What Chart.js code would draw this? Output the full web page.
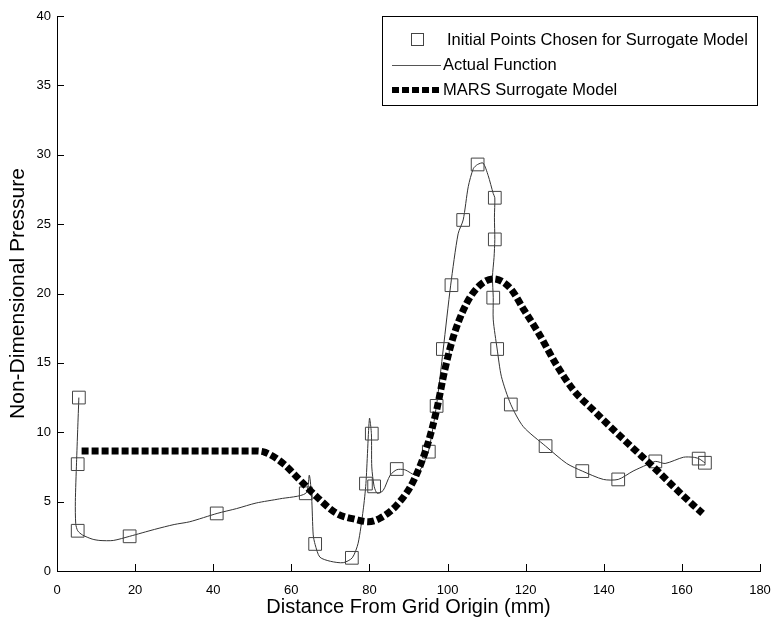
<!DOCTYPE html>
<html>
<head>
<meta charset="utf-8">
<script src="https://cdn.jsdelivr.net/npm/chart.js@4.4.1/dist/chart.umd.min.js"></script>
<style>
  html, body { margin: 0; padding: 0; background: #fff; }
  #wrap { width: 775px; height: 624px; position: relative; }
</style>
</head>
<body>
<div id="wrap"><canvas id="pressureChart"></canvas></div>
<script>
// axis ticks
const xTicks = [0, 20, 40, 60, 80, 100, 120, 140, 160, 180];
const yTicks = [0, 5, 10, 15, 20, 25, 30, 35, 40];

// initial sample points (squares)
const sampleX = [5.6, 5.3, 5.3, 18.6, 40.9, 63.7, 66.1, 75.5, 79.1, 81.2, 80.6, 87.0, 95.2, 97.2, 98.8,
                 101.0, 104.0, 107.7, 112.1, 112.1, 111.7, 112.7, 116.2, 125.1, 134.5, 143.7, 153.2, 164.3, 165.9];
const sampleY = [12.5, 7.7, 2.9, 2.5, 4.15, 5.6, 1.95, 0.95, 6.3, 6.1, 9.9, 7.35, 8.6, 11.9, 16.0,
                 20.6, 25.3, 29.3, 26.9, 23.9, 19.7, 16.0, 12.0, 9.0, 7.2, 6.6, 7.9, 8.1, 7.8];

// actual function (thin line)
const actualX = [5.6, 5.3, 5.0, 4.7, 4.8, 5.3, 6.5, 9, 11, 14.4, 18.6, 25, 30, 34, 41, 46, 51, 57, 63.7, 64.6,
                 65.2, 65.6, 66.1, 67.3, 70, 73.3, 75.6, 77.1, 78.4, 79.1, 80.0, 80.5, 80.6, 81.2, 82, 83.5,
                 85.3, 87, 89, 92, 93.4, 95.1, 97.2, 98.9, 100.8, 102.7, 104, 105.3, 106.6, 107.7, 109.1,
                 110.4, 111.7, 112.1, 112, 112.1, 111.9, 111.5, 111.7, 111.7, 112.7, 113.8, 116.2, 119.4,
                 125.1, 130.5, 134.5, 139.9, 143.7, 147.5, 151, 153.3, 155.7, 160.4, 162.9, 164.3, 165.9];
const actualY = [12.5, 10.2, 7.8, 5.0, 3.4, 2.9, 2.6, 2.3, 2.2, 2.2, 2.5, 3.0, 3.35, 3.55, 4.15, 4.5, 4.9, 5.2, 5.6, 6.9,
                 5.3, 2.6, 1.9, 1.0, 0.7, 0.6, 0.95, 2.0, 4.4, 6.3, 11.0, 9.9, 7.5, 6.1, 5.6, 5.8,
                 6.9, 7.3, 7.3, 6.9, 7.5, 8.6, 12.0, 16.0, 20.6, 24.3, 25.3, 27.7, 29.0, 29.3, 29.4,
                 28.5, 27.2, 26.9, 25.5, 23.9, 22.6, 21.2, 19.7, 18.1, 16.0, 14.0, 12.0, 10.4,
                 9.0, 7.75, 7.2, 6.6, 6.6, 7.2, 7.65, 7.9, 7.75, 8.2, 8.2, 8.1, 7.8];

// MARS surrogate model (thick dashed line)
const marsX = [6.3, 51, 53.3, 57.9, 62.2, 66.5, 71.6, 76.7, 79.7, 82.7, 87, 91.2, 94.7, 97.2, 99.3, 101.5,
               104.9, 108.3, 111.7, 116, 119.4, 123.6, 127.9, 132.2, 137.3, 142.4, 147.5, 152.7, 157.8, 162.9, 165.3];
const marsY = [8.65, 8.65, 8.55, 7.75, 6.55, 5.35, 4.15, 3.7, 3.55, 3.8, 4.75, 6.45, 8.95, 11.6, 14.5, 16.9,
               19.3, 20.6, 21.05, 20.4, 18.9, 17.0, 14.85, 13.05, 11.6, 10.2, 8.85, 7.5, 6.1, 4.75, 4.15];

const legendLabels = ['Initial Points Chosen for Surrogate Model', 'Actual Function', 'MARS Surrogate Model'];

const FONT = "'Liberation Sans', Arial, Helvetica, sans-serif";

const toXY = (xs, ys) => xs.map((x, i) => ({ x: x, y: ys[i] }));

document.addEventListener('DOMContentLoaded', function() {
    Chart.defaults.font.family = FONT;
    Chart.defaults.color = '#000';

    // ticks pointing into the plot (matlab style)
    const insideTicks = {
        id: 'insideTicks',
        afterDatasetsDraw(chart) {
            const ctx = chart.ctx;
            const xs = chart.scales.x, ys = chart.scales.y;
            const area = chart.chartArea;
            ctx.save();
            ctx.strokeStyle = '#000';
            ctx.lineWidth = 1;
            ctx.beginPath();
            xTicks.forEach(v => {
                const px = Math.round(xs.getPixelForValue(v)) + 0.5;
                ctx.moveTo(px, area.bottom);
                ctx.lineTo(px, area.bottom - 7);
            });
            yTicks.forEach(v => {
                const py = Math.round(ys.getPixelForValue(v)) + 0.5;
                ctx.moveTo(area.left, py);
                ctx.lineTo(area.left + 7, py);
            });
            ctx.stroke();
            ctx.restore();
        }
    };

    // boxed legend in the upper right
    const boxLegend = {
        id: 'boxLegend',
        afterDraw(chart) {
            const ctx = chart.ctx;
            const bx = 382.5, by = 16.5, bw = 375, bh = 89;
            ctx.save();
            ctx.fillStyle = '#fff';
            ctx.fillRect(bx, by, bw, bh);
            ctx.strokeStyle = '#000';
            ctx.lineWidth = 1;
            ctx.strokeRect(bx, by, bw, bh);

            const rows = [40, 65, 90];
            // square marker
            ctx.strokeStyle = '#444';
            ctx.strokeRect(411.5, rows[0] - 6.5, 12, 12);
            // thin line
            ctx.strokeStyle = '#555';
            ctx.beginPath();
            ctx.moveTo(392, rows[1] + 0.5);
            ctx.lineTo(441, rows[1] + 0.5);
            ctx.stroke();
            // dashed thick line
            ctx.strokeStyle = '#000';
            ctx.lineWidth = 6;
            ctx.setLineDash([7, 3]);
            ctx.beginPath();
            ctx.moveTo(392, rows[2]);
            ctx.lineTo(441, rows[2]);
            ctx.stroke();
            ctx.setLineDash([]);

            ctx.fillStyle = '#000';
            ctx.font = '16.5px ' + FONT;
            ctx.textBaseline = 'middle';
            ctx.textAlign = 'left';
            ctx.fillText(legendLabels[0], 447, rows[0]);
            ctx.fillText(legendLabels[1], 443, rows[1]);
            ctx.fillText(legendLabels[2], 443, rows[2]);
            ctx.restore();
        }
    };

    const ctx = document.getElementById('pressureChart').getContext('2d');
    new Chart(ctx, {
        type: 'scatter',
        data: {
            datasets: [
                {
                    type: 'line',
                    label: legendLabels[2],
                    data: toXY(marsX, marsY),
                    borderColor: '#000',
                    borderWidth: 7,
                    borderDash: [7, 3],
                    borderCapStyle: 'butt',
                    cubicInterpolationMode: 'monotone',
                    pointRadius: 0,
                    fill: false
                },
                {
                    label: legendLabels[0],
                    data: toXY(sampleX, sampleY),
                    pointStyle: 'rect',
                    pointRadius: 9,
                    pointBackgroundColor: 'rgba(0,0,0,0)',
                    pointBorderColor: '#444',
                    pointBorderWidth: 1
                },
                {
                    type: 'line',
                    label: legendLabels[1],
                    data: toXY(actualX, actualY),
                    borderColor: '#333',
                    borderWidth: 1,
                    tension: 0.25,
                    pointRadius: 0,
                    fill: false
                }
            ]
        },
        options: {
            responsive: true,
            maintainAspectRatio: false,
            animation: false,
            layout: { padding: { top: 16, right: 15, left: 0, bottom: 0 } },
            plugins: {
                legend: { display: false },
                tooltip: { enabled: false }
            },
            scales: {
                x: {
                    type: 'linear',
                    min: 0,
                    max: 180,
                    afterFit: (s) => { s.height = 53; s.paddingLeft = 0; s.paddingRight = 0; },
                    afterBuildTicks: (s) => { s.ticks = xTicks.map(v => ({ value: v })); },
                    grid: { display: false, drawTicks: false },
                    border: { display: true, color: '#000', width: 1 },
                    ticks: { padding: 12, font: { size: 13 }, color: '#000' },
                    title: {
                        display: true,
                        text: 'Distance From Grid Origin (mm)',
                        font: { size: 20 },
                        color: '#000',
                        padding: { top: 0, bottom: 5 }
                    }
                },
                y: {
                    type: 'linear',
                    min: 0,
                    max: 40,
                    afterFit: (s) => { s.width = 57; s.paddingTop = 0; s.paddingBottom = 0; },
                    afterBuildTicks: (s) => { s.ticks = yTicks.map(v => ({ value: v })); },
                    grid: { display: false, drawTicks: false },
                    border: { display: true, color: '#000', width: 1 },
                    ticks: { padding: 6, font: { size: 13 }, color: '#000' },
                    title: {
                        display: true,
                        text: 'Non-Dimensional Pressure',
                        font: { size: 21 },
                        color: '#000',
                        padding: { top: 6, bottom: 0 }
                    }
                }
            }
        },
        plugins: [insideTicks, boxLegend]
    });
});
</script>
</body>
</html>
